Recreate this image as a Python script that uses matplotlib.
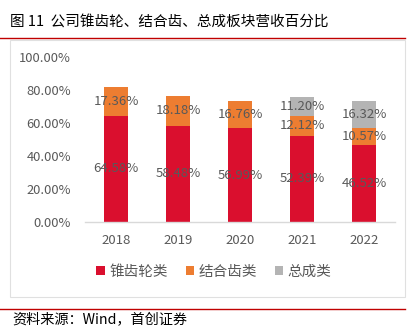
import matplotlib
matplotlib.use("Agg")
import matplotlib.pyplot as plt
from matplotlib.patches import Rectangle
from matplotlib.lines import Line2D
import numpy as np

plt.rcParams['font.family'] = ['Noto Sans CJK SC', 'DejaVu Sans']

years = ["2018", "2019", "2020", "2021", "2022"]
bevel = [64.58, 58.48, 56.99, 52.39, 46.52]
clutch = [17.36, 18.18, 16.76, 12.12, 10.57]
assembly = [0, 0, 0, 11.20, 16.32]
series_names = ["锥齿轮类", "结合齿类", "总成类"]
colors = ["#DA0F2E", "#ED7D31", "#B4B4B4"]
yticks = [0, 20, 40, 60, 80, 100]

W, H = 415, 331
fig = plt.figure(figsize=(W / 100, H / 100), dpi=100)

# frame lines
fig.add_artist(Line2D([0, 405 / W], [1 - 38 / H, 1 - 38 / H], color="#C00000", lw=1.0))
fig.add_artist(Rectangle((10 / W, 1 - 297 / H), 395 / W, 257 / H, fill=False,
                         edgecolor="#E0E0E0", lw=0.8))
fig.add_artist(Line2D([0, 405 / W], [1 - 309 / H, 1 - 309 / H], color="#C00000", lw=1.0))

fig.text(10 / W, 1 - 22 / H, "图 11  公司锥齿轮、结合齿、总成板块营收百分比",
         fontsize=10.5, va="center", ha="left", color="black")
fig.text(12 / W, 1 - 320 / H, "资料来源：Wind，首创证券", fontsize=10.2, va="center",
         ha="left", color="black", style="italic")

ax = fig.add_axes([85 / W, 1 - 222 / H, 310 / W, (222 - 57.3) / H])
x = np.arange(len(years))
bw = 0.4
data = [bevel, clutch, assembly]
bottom = np.zeros(len(years))
for vals, c, name in zip(data, colors, series_names):
    v = np.array(vals)
    ax.bar(x, v, bw, bottom=bottom, color=c, label=name, zorder=2)
    for xi, b, vi in zip(x, bottom, v):
        if vi > 0:
            ax.text(xi, b + vi / 2, f"{vi:.2f}%", ha="center", va="center",
                    fontsize=9.5, color="#595959", zorder=3)
    bottom += v

ax.set_xlim(-0.5, len(years) - 0.5)
ax.set_ylim(0, 100)
ax.set_yticks(yticks)
ax.set_yticklabels([f"{t:.2f}%" for t in yticks], fontsize=9.3, color="#595959")
ax.set_xticks(x)
ax.set_xticklabels(years, fontsize=9.5, color="#595959")
ax.tick_params(axis="y", length=0, pad=10)
ax.tick_params(axis="x", length=0, pad=9)
for s in ["top", "right", "left"]:
    ax.spines[s].set_visible(False)
ax.spines["bottom"].set_color("#D9D9D9")
ax.spines["bottom"].set_linewidth(1.0)

# legend centred at x≈214px in figure
lx = (214 - 85) / 310
leg = ax.legend(loc="center", bbox_to_anchor=(lx, -(272 - 222) / (222 - 57.3)),
                ncol=3, frameon=False, fontsize=10.5, handlelength=0.6, handleheight=0.6,
                columnspacing=1.2, handletextpad=0.3)
for t in leg.get_texts():
    t.set_color("#595959")

fig.savefig("out.png", dpi=100)
